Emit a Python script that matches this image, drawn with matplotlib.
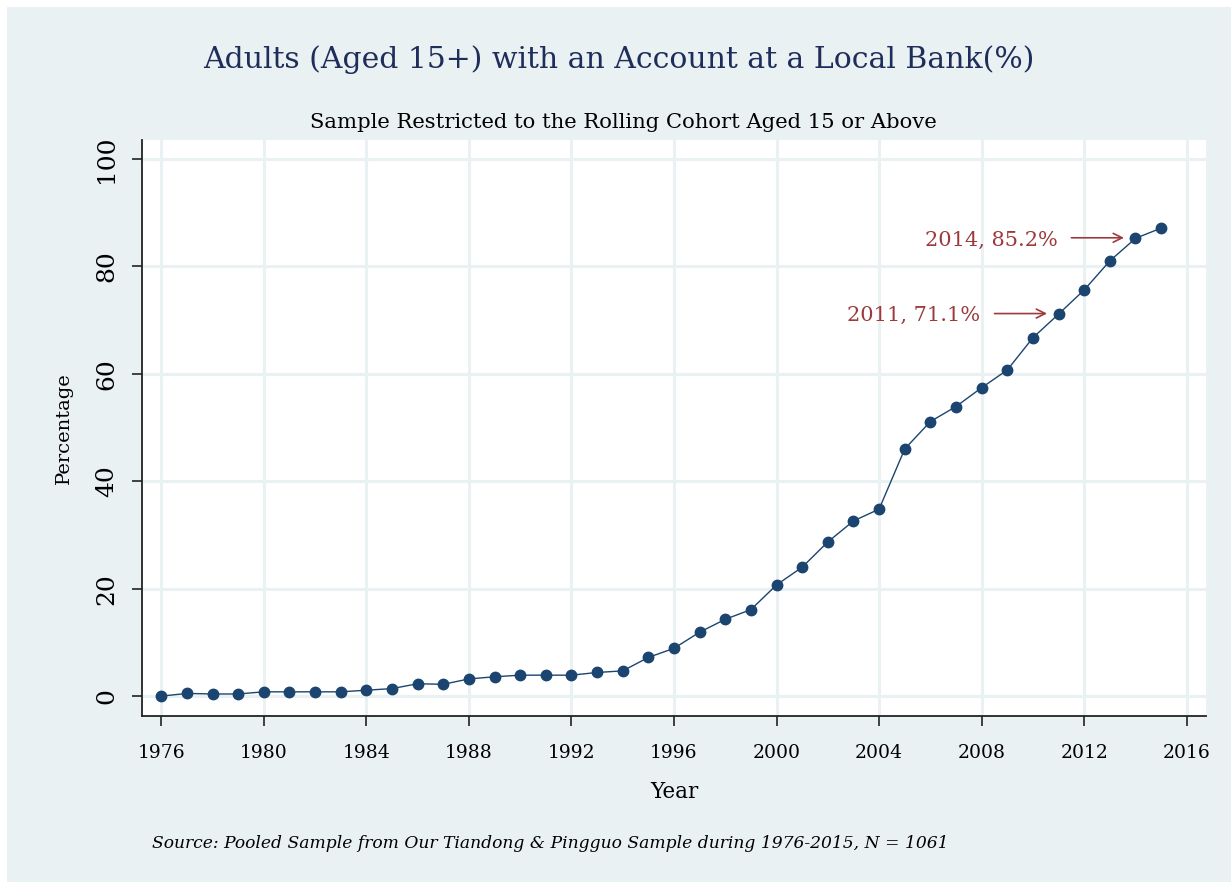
# plot.py
# Share of adults (15+) holding a local bank account, 1976-2015

import matplotlib
matplotlib.use("Agg")
import matplotlib.pyplot as plt
from matplotlib.patches import Rectangle

years = list(range(1976, 2016))
pct = [0.0, 0.5, 0.4, 0.4, 0.8, 0.8, 0.8, 0.8, 1.1, 1.4,
       2.3, 2.2, 3.2, 3.6, 3.9, 3.9, 3.9, 4.4, 4.7, 7.2,
       8.9, 11.9, 14.3, 16.1, 20.7, 24.0, 28.7, 32.6, 34.8, 46.0,
       51.1, 53.9, 57.4, 60.7, 66.7, 71.1, 75.6, 81.0, 85.2, 87.1]

x_ticks = list(range(1976, 2017, 4))
y_ticks = [0, 20, 40, 60, 80, 100]

notes = [(2014, 85.2, "2014, 85.2%"), (2011, 71.1, "2011, 71.1%")]

BG = "#eaf1f3"
NAVY = "#1b4570"
RED = "#9c3a3c"
FONT = "DejaVu Serif"

fig = plt.figure(figsize=(12.31, 8.82), dpi=100, facecolor="white")
fig.patches.append(Rectangle((7 / 1231, 0), 1, 1 - 7 / 882,
                             transform=fig.transFigure, facecolor=BG,
                             edgecolor="none", zorder=-10))

ax = fig.add_axes([142 / 1231, 1 - 716 / 882, (1206 - 142) / 1231, (716 - 140) / 882])
ax.set_facecolor("white")

ax.plot(years, pct, color=NAVY, linewidth=1.0, marker="o", markersize=7.5,
        markerfacecolor=NAVY, markeredgecolor=NAVY, zorder=3)

ax.set_xlim(1975.25, 2016.75)
ax.set_ylim(-3.7, 103.5)
ax.set_xticks(x_ticks)
ax.set_yticks(y_ticks)
ax.grid(True, color=BG, linewidth=2.2)
ax.set_axisbelow(True)

for s in ("top", "right"):
    ax.spines[s].set_visible(False)
for s in ("left", "bottom"):
    ax.spines[s].set_color("#222222")
    ax.spines[s].set_linewidth(1.3)

ax.tick_params(direction="out", length=7, width=1.2, color="#222222")
ax.tick_params(axis="x", pad=13)
ax.tick_params(axis="y", pad=10)
for lab in ax.get_xticklabels():
    lab.set_fontfamily(FONT)
    lab.set_fontsize(13.5)
for lab in ax.get_yticklabels():
    lab.set_fontfamily(FONT)
    lab.set_fontsize(18)
    lab.set_rotation(90)
    lab.set_va("center")

ax.set_xlabel("Year", fontfamily=FONT, fontsize=15.5, labelpad=14)
ax.set_ylabel("Percentage", fontfamily=FONT, fontsize=14, labelpad=16)

# annotations with horizontal arrows
for yr, val, txt in notes:
    ax.annotate("", xy=(yr - 0.45, val + 0.1), xytext=(yr - 2.5, val + 0.1),
                arrowprops=dict(arrowstyle="->", color=RED, lw=1.2,
                                shrinkA=0, shrinkB=0, mutation_scale=16))
    ax.text(yr - 3.05, val - 0.3, txt, color=RED, fontfamily=FONT, fontsize=15,
            ha="right", va="center")

fig.text(0.503, 1 - 60 / 882, "Adults (Aged 15+) with an Account at a Local Bank(%)",
         ha="center", va="center", fontfamily=FONT, fontsize=21.5, color="#1f2d5a")
fig.text(0.506, 1 - 123 / 882, "Sample Restricted to the Rolling Cohort Aged 15 or Above",
         ha="center", va="center", fontfamily=FONT, fontsize=15.2, color="black")
fig.text(152 / 1231, 1 - 843 / 882,
         "Source: Pooled Sample from Our Tiandong & Pingguo Sample during 1976-2015, N = 1061",
         ha="left", va="center", fontfamily=FONT, fontsize=12.3, style="italic", color="black")

fig.savefig("out.png", dpi=100, facecolor="white")
